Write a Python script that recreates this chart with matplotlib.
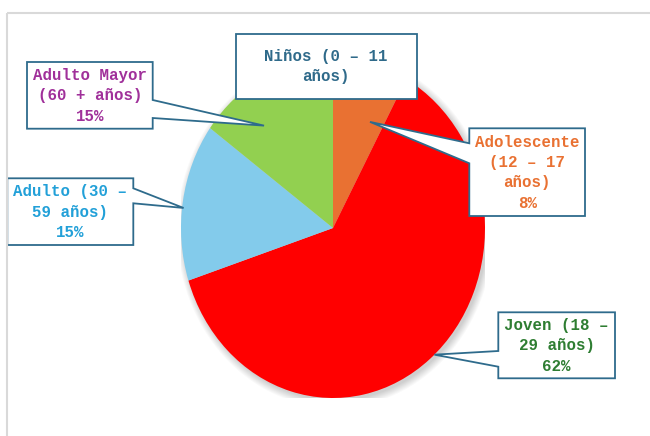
import numpy as np
import matplotlib
matplotlib.use("Agg")
import matplotlib.pyplot as plt
from matplotlib.patches import Polygon, Ellipse

# datos
grupos = ["Niños (0 – 11\naños)", "Adolescente\n(12 – 17\naños)", "Joven (18 –\n29 años)",
          "Adulto (30 –\n59 años)", "Adulto Mayor\n(60 + años)"]
porcentajes = [0, 8, 62, 15, 15]
colores = ["#4472C4", "#E97132", "#FF0000", "#83CBEB", "#92D050"]
colores_texto = ["#2F6A8A", "#E97132", "#2E7D32", "#22A0D8", "#A0309A"]

BORDE = "#2E6B8C"
W, H = 650, 436
cx, cy, rx, ry = 333, 228, 152, 170

fig = plt.figure(figsize=(W / 100, H / 100), dpi=100)
fig.patch.set_facecolor("white")

# capa para cajas y marco (1 unidad = 1 px)
ax_over = fig.add_axes([0, 0, 1, 1], zorder=2)
ax_over.set_xlim(0, W)
ax_over.set_ylim(H, 0)
ax_over.axis("off")
ax_over.patch.set_alpha(0)

# pie (elipse)
ax_pie = fig.add_axes([(cx - rx) / W, (H - cy - ry) / H, 2 * rx / W, 2 * ry / H], zorder=1)
for i in range(8):
    ax_pie.add_patch(Ellipse((0.015, -0.015), 2 + 0.012 * i, 2 + 0.012 * i,
                             facecolor="black", alpha=0.025, lw=0))
wedges, _ = ax_pie.pie(porcentajes, colors=colores, startangle=90, counterclock=False,
                       radius=1, wedgeprops=dict(linewidth=0))
ax_pie.set_aspect("auto")
ax_pie.set_xlim(-1, 1)
ax_pie.set_ylim(-1, 1)
ax_pie.axis("off")

# marco del gráfico
ax_over.plot([7, W], [13, 13], color="#D9D9D9", lw=1.5, solid_capstyle="butt")
ax_over.plot([7, 7], [13, H], color="#D9D9D9", lw=1.5, solid_capstyle="butt")

# cajas: (x0, y0, x1, y1), lado del puntero, tramo del puntero, (fracción angular, radio)
cajas = [
    ((235.5, 33.7, 416.7, 98.7), None, None, None),
    ((469.3, 128.3, 585, 216), "left", (143.3, 163.3), (0.26, 0.67)),
    ((498.3, 312.3, 615, 378.3), "left", (351, 366.7), (0.51, 1.0)),
    ((7.3, 178.3, 133.3, 245), "right", (188.3, 203.3), (0.54, 0.99)),
    ((27, 62, 152.7, 128.7), "right", (100, 118), (0.685, 0.754)),
]

to_over = ax_over.transData.inverted()
for i, (caja, lado, tramo, punta) in enumerate(cajas):
    x0, y0, x1, y1 = caja
    if lado is None:
        pts = [(x0, y0), (x1, y0), (x1, y1), (x0, y1)]
    else:
        w = wedges[i]
        ang = np.radians(w.theta1 + punta[0] * (w.theta2 - w.theta1))
        tip = to_over.transform(ax_pie.transData.transform(
            (punta[1] * np.cos(ang), punta[1] * np.sin(ang))))
        ya, yb = tramo
        if lado == "left":
            pts = [(x0, y0), (x1, y0), (x1, y1), (x0, y1), (x0, yb), tuple(tip), (x0, ya)]
        else:
            pts = [(x0, y0), (x1, y0), (x1, ya), tuple(tip), (x1, yb), (x1, y1), (x0, y1)]
    ax_over.add_patch(Polygon(pts, closed=True, facecolor="white", edgecolor=BORDE,
                              lw=1.3, joinstyle="miter"))
    texto = grupos[i] if porcentajes[i] == 0 else f"{grupos[i]}\n{porcentajes[i]}%"
    ax_over.text((x0 + x1) / 2, (y0 + y1) / 2 + 0.5, texto, ha="center", va="center",
                 fontsize=11.3, family=["Liberation Mono", "DejaVu Sans Mono"],
                 fontweight="bold", color=colores_texto[i], linespacing=1.45)

fig.savefig("out.png", dpi=100, facecolor="white")
